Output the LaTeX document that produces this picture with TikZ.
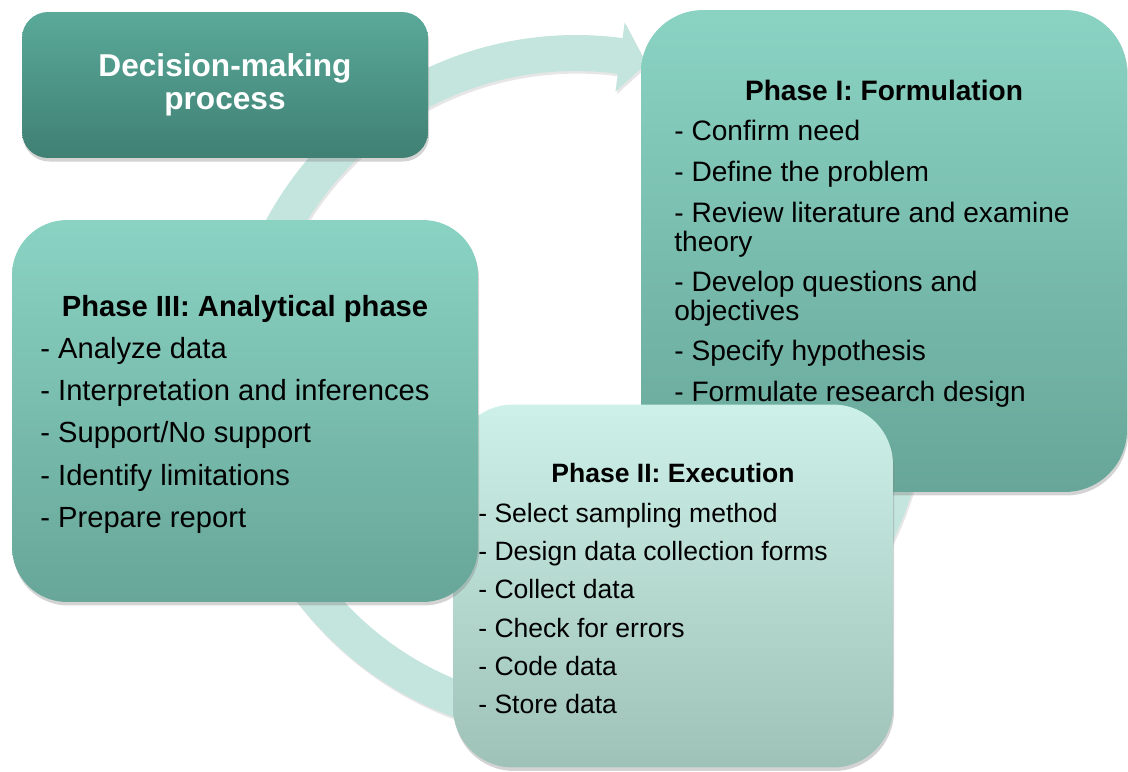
\documentclass[tikz,border=0pt]{standalone}
\usepackage{fontspec}
\setmainfont{Liberation Sans}
\usepackage{tikz}
\usetikzlibrary{shadows}

\definecolor{ringteal}{HTML}{C4E5DD}
\definecolor{darktop}{HTML}{5AA999}
\definecolor{darkbot}{HTML}{3F8073}
\definecolor{tealtop}{HTML}{8AD3C3}
\definecolor{tealbot}{HTML}{67A698}
\definecolor{paletop}{HTML}{CDF1E8}
\definecolor{palebot}{HTML}{9EC2B7}

\tikzset{
  phasebox/.style={rectangle, draw=none, inner sep=0pt,
    drop shadow={shadow xshift=0.6pt, shadow yshift=-2pt, opacity=0.35}},
  tealbox/.style={phasebox, top color=tealtop, bottom color=tealbot},
  phasetitle/.style={anchor=base, inner sep=0pt, font=\fontsize{16}{19}\selectfont\bfseries},
  phaseitem/.style={anchor=base west, inner sep=0pt, font=\fontsize{16}{19}\selectfont},
  execitem/.style={phaseitem, font=\fontsize{15.1}{18}\selectfont},
}

\begin{document}
\begin{tikzpicture}[x=0.02cm, y=-0.02cm]
\useasboundingbox (0,0) rectangle (1128,771);

% Circular arrow running behind the boxes
\begin{scope}[shift={(576,387)}]
  \fill[ringteal, drop shadow={shadow xshift=0.8pt, shadow yshift=-1.5pt, opacity=0.2}]
    (-40:352) arc[start angle=-40, end angle=277.6, radius=352]
    -- (277.6:368) -- (282.3:331) -- (277.6:298) -- (277.6:316)
    arc[start angle=277.6, end angle=-40, radius=316] -- cycle;
\end{scope}

% Heading box
\node[phasebox, minimum width=8.12cm, minimum height=2.92cm, rounded corners=0.52cm,
  top color=darktop, bottom color=darkbot, text=white, align=center,
  font=\fontsize{18}{18.6}\selectfont\bfseries] (start) at (225,85) {Decision-making\\process};

% Phase I
\node[tealbox, minimum width=9.72cm, minimum height=9.64cm, rounded corners=1.24cm] (form) at (884,251) {};
\node[phasetitle] (formtitle) at (884,100) {Phase I: Formulation};
\foreach \yy/\txt [count=\i] in {140/{- Confirm need}, 181/{- Define the problem},
    222/{- Review literature and examine}, 251/{theory},
    291/{- Develop questions and}, 320/{objectives},
    360/{- Specify hypothesis}, 401/{- Formulate research design}}
  \node[phaseitem] (formitem\i) at (674,\yy) {\txt};

% Phase II (box only, its text goes on top later)
\node[phasebox, minimum width=8.8cm, minimum height=7.26cm, rounded corners=1.2cm,
  top color=paletop, bottom color=palebot] (exec) at (673,586) {};

% Phase III
\node[tealbox, minimum width=9.32cm, minimum height=7.64cm, rounded corners=1.1cm] (anal) at (245,411) {};
\node[phasetitle, font=\fontsize{16.6}{19}\selectfont\bfseries] (analtitle) at (245,316) {Phase III: Analytical phase};
\foreach \yy/\txt [count=\i] in {358/{- Analyze data}, 400/{- Interpretation and inferences},
    442/{- Support/No support}, 485/{- Identify limitations}, 527/{- Prepare report}}
  \node[phaseitem, font=\fontsize{16.6}{19}\selectfont] (analitem\i) at (40,\yy) {\txt};

% Phase II text
\node[phasetitle, font=\fontsize{15.1}{18}\selectfont\bfseries] (exectitle) at (673,482) {Phase II: Execution};
\foreach \yy/\txt [count=\i] in {522/{- Select sampling method}, 560/{- Design data collection forms},
    598/{- Collect data}, 637/{- Check for errors}, 675/{- Code data}, 713/{- Store data}}
  \node[execitem] (execitem\i) at (478,\yy) {\txt};

\end{tikzpicture}
\end{document}
